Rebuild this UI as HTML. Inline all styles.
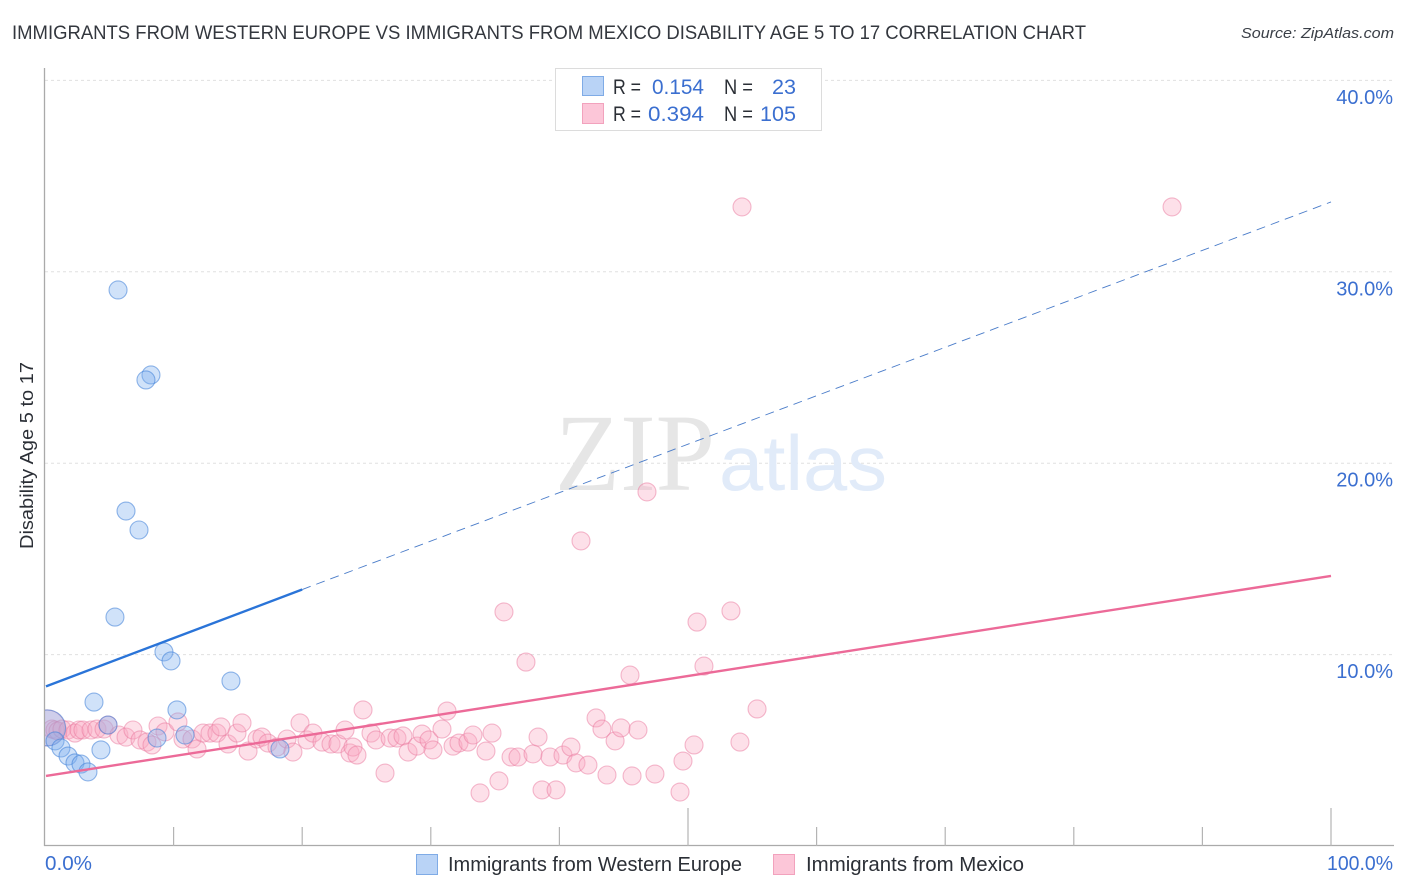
<!DOCTYPE html>
<html lang="en">
<head>
<meta charset="utf-8">
<title>Immigrants from Western Europe vs Immigrants from Mexico Disability Age 5 to 17 Correlation Chart</title>
<style>
html,body{margin:0;padding:0;background:#fff;width:1406px;height:892px;overflow:hidden}
svg{display:block;font-family:"Liberation Sans",sans-serif}
</style>
</head>
<body>
<svg id="chart" xmlns="http://www.w3.org/2000/svg" width="1406" height="892" viewBox="0 0 1406 892">
  <defs><clipPath id="plot-clip"><rect x="45" y="60" width="1350" height="786"/></clipPath></defs>
  <text x="12" y="39" font-size="19.5" fill="#33373e" textLength="1074" lengthAdjust="spacingAndGlyphs">IMMIGRANTS FROM WESTERN EUROPE VS IMMIGRANTS FROM MEXICO DISABILITY AGE 5 TO 17 CORRELATION CHART</text>
  <text x="1241" y="38" font-size="15" font-style="italic" fill="#3a3f47" textLength="153" lengthAdjust="spacingAndGlyphs">Source: ZipAtlas.com</text>

  <g id="grid"></g>

  <text x="555" y="490" font-family="'Liberation Serif',serif" font-size="110" fill="#e6e6e6" textLength="160" lengthAdjust="spacingAndGlyphs">ZIP</text>
  <text x="719" y="490" font-size="78" fill="#e1ebf9" textLength="168" lengthAdjust="spacingAndGlyphs">atlas</text>

  <g id="axes"></g>
  <g id="y-labels" font-size="20" fill="#3b6fd0" text-anchor="end"></g>
  <text transform="translate(33,549) rotate(-90)" font-size="18.5" fill="#2b2f36" textLength="187" lengthAdjust="spacingAndGlyphs">Disability Age 5 to 17</text>
  <text x="45" y="870" font-size="20" fill="#3b6fd0" textLength="47" lengthAdjust="spacingAndGlyphs">0.0%</text>
  <text x="1327" y="870" font-size="20" fill="#3b6fd0" textLength="66" lengthAdjust="spacingAndGlyphs">100.0%</text>

  <g id="points" clip-path="url(#plot-clip)"></g>
  <g id="trends"></g>

  <g>
    <rect x="555.5" y="68.5" width="266" height="62" fill="#fff" stroke="#dcdcdc"/>
    <rect x="582.5" y="76.5" width="21" height="19" fill="#b9d3f6" stroke="#7fabe6"/>
    <rect x="582.5" y="103.5" width="21" height="20" fill="#fcc6d8" stroke="#f2a2bd"/>
    <g font-size="21" fill="#2b2f36">
      <text x="613" y="94" textLength="28" lengthAdjust="spacingAndGlyphs">R =</text>
      <text x="724" y="94" textLength="29" lengthAdjust="spacingAndGlyphs">N =</text>
      <text x="613" y="121" textLength="28" lengthAdjust="spacingAndGlyphs">R =</text>
      <text x="724" y="121" textLength="29" lengthAdjust="spacingAndGlyphs">N =</text>
    </g>
    <g font-size="21.5" fill="#3b6fd0">
      <text x="652" y="94" textLength="52" lengthAdjust="spacingAndGlyphs">0.154</text>
      <text x="772" y="94" textLength="24" lengthAdjust="spacingAndGlyphs">23</text>
      <text x="648" y="121" textLength="56" lengthAdjust="spacingAndGlyphs">0.394</text>
      <text x="760" y="121" textLength="36" lengthAdjust="spacingAndGlyphs">105</text>
    </g>
  </g>

  <g>
    <rect x="416.5" y="854.5" width="21" height="20" fill="#b9d3f6" stroke="#7fabe6"/>
    <text x="448" y="871" font-size="20" fill="#2b2f36" textLength="294" lengthAdjust="spacingAndGlyphs">Immigrants from Western Europe</text>
    <rect x="773.5" y="854.5" width="21" height="20" fill="#fcc6d8" stroke="#f2a2bd"/>
    <text x="806" y="871" font-size="20" fill="#2b2f36" textLength="218" lengthAdjust="spacingAndGlyphs">Immigrants from Mexico</text>
  </g>
</svg>
<script>
const yTicks = [10, 20, 30, 40];
const yTickLabels = ["10.0%", "20.0%", "30.0%", "40.0%"];
const xTicks = [10, 20, 30, 40, 50, 60, 70, 80, 90, 100];
const xMajorTicks = [50, 100];

const blueX = [0.2,5.68,8.24,7.85,6.30,7.31,5.44,9.25,9.80,14.46,3.81,10.26,4.90,10.89,8.71,4.35,18.27,0.78,1.24,1.79,2.33,2.80,3.34];
const blueY = [6.17,29.05,24.61,24.35,17.50,16.51,11.96,10.14,9.67,8.62,7.52,7.11,6.32,5.80,5.64,5.02,5.07,5.49,5.12,4.70,4.34,4.28,3.87];

const pinkX = [0.16,0.54,0.78,1.01,1.32,1.79,2.33,2.64,2.95,3.58,4.04,4.59,4.90,5.75,6.30,6.84,7.39,7.93,8.32,8.79,9.33,10.34,10.73,11.43,11.82,12.29,12.83,13.37,13.69,14.23,14.93,15.32,15.79,16.49,16.87,17.34,18.04,18.82,19.28,19.83,20.37,20.84,21.54,22.24,22.78,23.33,23.72,23.95,24.26,24.73,25.35,25.74,26.44,26.83,27.37,27.84,28.23,28.93,29.32,29.86,30.17,30.87,31.26,31.73,32.19,32.89,33.28,33.83,34.29,34.76,35.30,35.69,36.24,36.78,37.40,37.95,38.34,38.65,39.27,39.74,40.28,40.90,41.29,41.68,42.22,42.85,43.31,43.70,44.33,44.79,45.49,45.65,46.11,46.81,47.43,49.38,49.61,50.47,50.70,51.24,53.34,54.04,54.20,55.37,87.64];
const pinkY = [6.17,6.11,6.06,6.01,6.11,6.06,5.90,6.06,6.06,6.06,6.11,6.11,6.32,5.80,5.69,6.06,5.54,5.43,5.28,6.27,5.96,6.48,5.59,5.59,5.07,5.90,5.90,5.90,6.22,5.33,5.90,6.43,4.96,5.59,5.69,5.38,5.17,5.59,4.91,6.43,5.54,5.90,5.43,5.33,5.33,6.06,4.86,5.17,4.75,7.11,5.90,5.54,3.81,5.64,5.64,5.75,4.91,5.22,5.85,5.54,5.02,6.11,7.05,5.22,5.38,5.43,5.80,2.77,4.96,5.90,3.40,12.23,4.65,4.65,9.61,4.81,5.69,2.93,4.65,2.93,4.75,5.17,4.34,15.94,4.23,6.69,6.11,3.71,5.49,6.17,8.93,3.66,6.06,18.50,3.76,2.82,4.44,5.28,11.70,9.40,12.28,5.43,33.39,7.16,33.39];

const blueTrendX = [0, 20, 100];
const blueTrendY = [8.34, 13.40, 33.65];
const pinkTrendX = [0, 100];
const pinkTrendY = [3.66, 14.11];

function xScale(v) { return 45 + v * 12.86; }
function yScale(v) { return 846 - v * 19.14; }
const NS = 'http://www.w3.org/2000/svg';
function make(tag, attrs, parent) {
  const el = document.createElementNS(NS, tag);
  for (const k in attrs) el.setAttribute(k, attrs[k]);
  parent.appendChild(el);
  return el;
}
const grid = document.getElementById('grid');
const axes = document.getElementById('axes');
const yLabels = document.getElementById('y-labels');
const points = document.getElementById('points');
const trends = document.getElementById('trends');

yTicks.forEach(function (t, i) {
  const g = make('line', {x1: 45, x2: 1393, y1: yScale(t), y2: yScale(t), stroke: '#e0e0e0', 'stroke-dasharray': '3 3'}, grid);
  
  
  const lab = make('text', {x: 1393, y: yScale(t) + 23.5}, yLabels);
  lab.textContent = yTickLabels[i];
  
  
});

const yAxisLine = make('line', {x1: 44.5, x2: 44.5, y1: 68, y2: 846, stroke: '#aaaaaa', 'stroke-width': 1.3}, axes);


const xAxisLine = make('line', {x1: 44, x2: 1394, y1: 845.5, y2: 845.5, stroke: '#aaaaaa', 'stroke-width': 1.3}, axes);


xTicks.forEach(function (t) {
  const top = xMajorTicks.indexOf(t) >= 0 ? 808 : 827;
  const tick = make('line', {x1: xScale(t), x2: xScale(t), y1: top, y2: 846, stroke: '#b4b4b4', 'stroke-width': 1.2}, axes);
  
  
});

pinkX.forEach(function (v, i) {
  const c = make('circle', {cx: xScale(v), cy: yScale(pinkY[i]), r: i === 0 ? 18 : 9, fill: 'rgba(250,168,195,0.36)', stroke: 'rgba(234,120,158,0.5)', 'stroke-width': 1.1}, points);
  
  
});
blueX.forEach(function (v, i) {
  const c = make('circle', {cx: xScale(v), cy: yScale(blueY[i]), r: i === 0 ? 18 : 9, fill: 'rgba(125,175,238,0.36)', stroke: 'rgba(60,125,215,0.55)', 'stroke-width': 1.1}, points);
  
  
});

const blueSolid = make('line', {x1: xScale(blueTrendX[0]) + 1, y1: yScale(blueTrendY[0]), x2: xScale(blueTrendX[1]), y2: yScale(blueTrendY[1]), stroke: '#2a74d8', 'stroke-width': 2.4}, trends);


const blueDash = make('line', {x1: xScale(blueTrendX[1]), y1: yScale(blueTrendY[1]), x2: xScale(blueTrendX[2]), y2: yScale(blueTrendY[2]), stroke: '#4a7cc9', 'stroke-width': 0.9, 'stroke-dasharray': '9 6'}, trends);


const pinkLine = make('line', {x1: xScale(pinkTrendX[0]) + 1, y1: yScale(pinkTrendY[0]), x2: xScale(pinkTrendX[1]), y2: yScale(pinkTrendY[1]), stroke: '#ec6a98', 'stroke-width': 2.4}, trends);


</script>
</body>
</html>
